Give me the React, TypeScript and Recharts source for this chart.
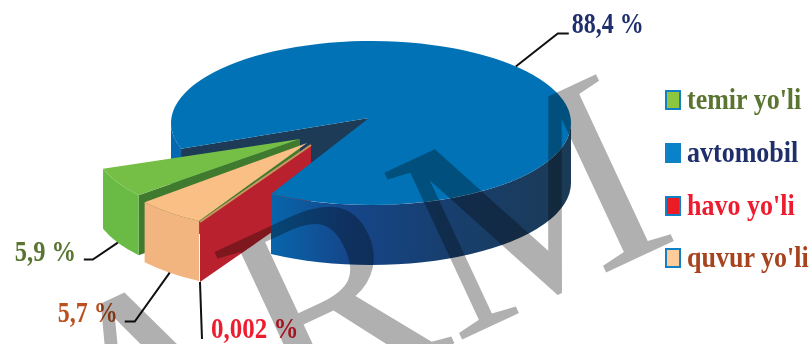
import React from 'react'
import { PieChart, Pie, Legend } from 'recharts'

const sliceNames = ['avtomobil', "temir yo'li", "quvur yo'li", "havo yo'li"]
const sliceValues = [88.4, 5.9, 5.7, 0.002]
const legendOrder = ["temir yo'li", 'avtomobil', "havo yo'li", "quvur yo'li"]
const watermark = 'ARM'

const chartData = sliceNames.map((name, i) => ({ name, value: sliceValues[i] }))

const RX = 200
const RY = 82
const DEPTH = 60
const SERIF = '"Liberation Serif", serif'

// shift: how far the rim is pulled out, tip: same for the apex of the wedge
const SLICE_STYLE: Record<string, any> = {
  avtomobil: { shift: [0, 0], tip: [-2, -5], top: '#0072B5', wall: 'url(#blueRim)', side: '#1D3B57' },
  "temir yo'li": { shift: [-78, 20], tip: [-71, 16], top: '#75BF46', wall: '#69BB45', side: '#3F7A2E' },
  "quvur yo'li": { shift: [-72, 27], tip: [-64, 20], top: '#F9BF85', wall: '#F2B57F' },
  "havo yo'li": { shift: [-71, 28], tip: [-60, 22], side: '#B8212D', edge: '#C8975F' },
}

// callout layout, offsets from the point where the leader leaves the slice
const CALLOUT: Record<string, any> = {
  avtomobil: { turn: 4.5, elbow: [42, -33], run: 11, text: [56, -33], size: 24, color: '#1F2F6B', onTop: true },
  "temir yo'li": { turn: 0, elbow: [-25, 17], run: -9, text: [-103, 18], size: 24.5, color: '#5A7531' },
  "quvur yo'li": { turn: 0, elbow: [-35, 49], run: -10, text: [-112, 49], size: 24, color: '#B8501F' },
  "havo yo'li": { turn: 0, elbow: [2, 57], run: 0, text: [11, 56], size: 25, color: '#ED1C2E' },
}

const LEGEND_STYLE: Record<string, any> = {
  "temir yo'li": { swatch: '#8DC63F', color: '#5A7531' },
  avtomobil: { swatch: '#0A82CA', color: '#1F2F6B' },
  "havo yo'li": { swatch: '#ED1C24', color: '#ED1C2E' },
  "quvur yo'li": { swatch: '#FFCC99', color: '#A8431F' },
}

const rimPoint = (cx: number, cy: number, angle: number, shift: number[]) => {
  const rad = (angle * Math.PI) / 180
  return [cx + shift[0] + RX * Math.cos(rad), cy + shift[1] - RY * Math.sin(rad)]
}

const topPath = (cx: number, cy: number, a0: number, a1: number, st: any) => {
  const p0 = rimPoint(cx, cy, a0, st.shift)
  const p1 = rimPoint(cx, cy, a1, st.shift)
  const large = a1 - a0 > 180 ? 1 : 0
  return `M${cx + st.tip[0]},${cy + st.tip[1]} L${p0[0]},${p0[1]} A${RX},${RY} 0 ${large} 0 ${p1[0]},${p1[1]} Z`
}

const rimPath = (cx: number, cy: number, a0: number, a1: number, st: any) => {
  const p0 = rimPoint(cx, cy, a0, st.shift)
  const p1 = rimPoint(cx, cy, a1, st.shift)
  return `M${p0[0]},${p0[1]} A${RX},${RY} 0 0 0 ${p1[0]},${p1[1]} L${p1[0]},${p1[1] + DEPTH} A${RX},${RY} 0 0 1 ${p0[0]},${p0[1] + DEPTH} Z`
}

const sidePath = (cx: number, cy: number, angle: number, st: any) => {
  const p = rimPoint(cx, cy, angle, st.shift)
  const tx = cx + st.tip[0]
  const ty = cy + st.tip[1]
  return `M${tx},${ty} L${p[0]},${p[1]} L${p[0]},${p[1] + DEPTH} L${tx},${ty + DEPTH} Z`
}

// everything that sits behind the big slab: its notch wall and the pulled out wedges
const BackShape = (props: any) => {
  const { cx, cy, startAngle, endAngle, name } = props
  const st = SLICE_STYLE[name]
  if (name === 'avtomobil') {
    return (
      <g>
        <path d={sidePath(cx, cy, endAngle - 360, st)} fill={st.side} />
        <path d={rimPath(cx, cy, 180, endAngle - 360, st)} fill={st.wall} />
      </g>
    )
  }
  if (name === "havo yo'li") {
    const p = rimPoint(cx, cy, startAngle, st.shift)
    return (
      <g>
        <path d={sidePath(cx, cy, startAngle, st)} fill={st.side} />
        <line x1={cx + st.tip[0]} y1={cy + st.tip[1]} x2={p[0]} y2={p[1]} stroke={st.edge} strokeWidth={2} />
      </g>
    )
  }
  return (
    <g>
      {st.side && <path d={sidePath(cx, cy, endAngle, st)} fill={st.side} />}
      <path d={rimPath(cx, cy, startAngle, endAngle, st)} fill={st.wall} />
      <path d={topPath(cx, cy, startAngle, endAngle, st)} fill={st.top} />
    </g>
  )
}

const FrontShape = (props: any) => {
  const { cx, cy, startAngle, endAngle, name } = props
  if (name !== 'avtomobil') return <g />
  const st = SLICE_STYLE[name]
  return (
    <g>
      <path d={rimPath(cx, cy, startAngle, 360, st)} fill={st.wall} />
      <path d={topPath(cx, cy, startAngle, endAngle, st)} fill={st.top} />
    </g>
  )
}

const renderCallout = (props: any) => {
  const { cx, cy, startAngle, endAngle, name, value } = props
  const st = SLICE_STYLE[name]
  const c = CALLOUT[name]
  const mid = (startAngle + endAngle) / 2 + c.turn
  const p = rimPoint(cx, cy, mid, st.shift)
  const x = p[0]
  const y = c.onTop ? p[1] : p[1] + DEPTH
  const ex = x + c.elbow[0]
  const ey = y + c.elbow[1]
  return (
    <g key={name}>
      <polyline
        points={`${x},${y} ${ex},${ey} ${ex + c.run},${ey}`}
        fill="none"
        stroke="#111"
        strokeWidth={2}
      />
      <text
        transform={`translate(${x + c.text[0]},${y + c.text[1]}) scale(1,1.2)`}
        fontFamily={SERIF}
        fontWeight="bold"
        fontSize={c.size}
        fill={c.color}
      >
        {`${String(value).replace('.', ',')} %`}
      </text>
    </g>
  )
}

const renderLegend = () => (
  <div>
    {legendOrder.map((name) => (
      <div key={name} style={{ display: 'flex', alignItems: 'center', height: 52.7 }}>
        <span
          style={{
            boxSizing: 'border-box',
            width: 16,
            height: 20,
            marginRight: 6,
            background: LEGEND_STYLE[name].swatch,
            border: '2px solid #1180C4',
          }}
        />
        <span
          style={{
            fontFamily: SERIF,
            fontWeight: 'bold',
            fontSize: 26,
            color: LEGEND_STYLE[name].color,
            display: 'inline-block',
            transform: 'scaleY(1.1)',
            whiteSpace: 'nowrap',
          }}
        >
          {name}
        </span>
      </div>
    ))}
  </div>
)

export default function App() {
  return (
    <div
      style={{
        position: 'absolute',
        left: 0,
        top: 0,
        width: 809,
        height: 344,
        overflow: 'hidden',
        background: '#fff',
        isolation: 'isolate',
      }}
    >
      <PieChart width={809} height={344} margin={{ top: 0, right: 0, bottom: 0, left: 0 }}>
        <defs>
          <linearGradient id="blueRim" gradientUnits="userSpaceOnUse" x1={171} y1={0} x2={571} y2={0}>
            <stop offset="0%" stopColor="#0668AE" />
            <stop offset="24%" stopColor="#0767AD" />
            <stop offset="44%" stopColor="#15468A" />
            <stop offset="67%" stopColor="#173F70" />
            <stop offset="100%" stopColor="#1B3A55" />
          </linearGradient>
        </defs>
        <Pie
          data={chartData}
          dataKey="value"
          nameKey="name"
          cx={371}
          cy={123}
          outerRadius={RX}
          startAngle={240}
          endAngle={600}
          stroke="none"
          shape={BackShape}
          isAnimationActive={false}
        />
        <Pie
          data={chartData}
          dataKey="value"
          nameKey="name"
          cx={371}
          cy={123}
          outerRadius={RX}
          startAngle={240}
          endAngle={600}
          stroke="none"
          shape={FrontShape}
          label={renderCallout}
          labelLine={false}
          isAnimationActive={false}
        />
        <Legend
          content={renderLegend}
          layout="vertical"
          wrapperStyle={{ position: 'absolute', left: 665, top: 74, width: 144, bottom: 'auto' }}
        />
      </PieChart>
      <svg
        width={809}
        height={344}
        style={{ position: 'absolute', left: 0, top: 0, mixBlendMode: 'multiply', pointerEvents: 'none' }}
      >
        <text
          x={101}
          y={508}
          transform="rotate(-25 101 508)"
          fontFamily={SERIF}
          fontSize={281}
          fill="#B0B0B0"
        >
          {watermark}
        </text>
      </svg>
    </div>
  )
}
